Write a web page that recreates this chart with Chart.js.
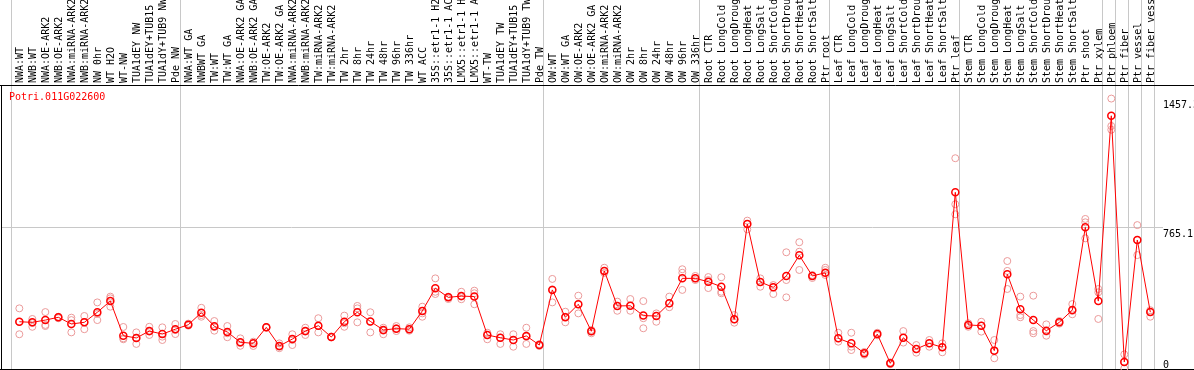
<!DOCTYPE html>
<html lang="en">
<head>
<meta charset="UTF-8">
<title>Potri.011G022600 expression</title>
<script src="https://cdn.jsdelivr.net/npm/chart.js"></script>
<style>
  html, body { margin: 0; padding: 0; background: #fff; overflow: hidden; }
  canvas { display: block; }
</style>
</head>
<body>
<canvas id="exprChart" width="1194" height="370"></canvas>
<script>
// gene shown in the panel
const geneName = 'Potri.011G022600';

// sample names, left to right
const categories = [
  'NWA:WT', 'NWB:WT', 'NWA:OE-ARK2', 'NWB:OE-ARK2', 'NWA:miRNA-ARK2', 'NWB:miRNA-ARK2',
  'NW 0hr', 'WT H2O', 'WT-NW', 'TUA1dEY NW', 'TUA1dEY+TUB15 NW', 'TUA1dY+TUB9 NW', 'Pde NW',
  'NWA:WT GA', 'NWBWT GA', 'TW:WT', 'TW:WT GA', 'NWA:OE-ARK2 GA', 'NWB:OE-ARK2 GA',
  'TW:OE-ARK2', 'TW:OE-ARK2 GA', 'NWA:miRNA-ARK2 GA', 'NWB:miRNA-ARK2 GA', 'TW:miRNA-ARK2',
  'TW:miRNA-ARK2 GA', 'TW 2hr', 'TW 8hr', 'TW 24hr', 'TW 48hr', 'TW 96hr', 'TW 336hr',
  'WT ACC', '35S::etr1-1 H2O', '35S::etr1-1 ACC', 'LMX5::etr1-1 H2O', 'LMX5::etr1-1 ACC',
  'WT-TW', 'TUA1dEY TW', 'TUA1dEY+TUB15 TW', 'TUA1dY+TUB9 TW', 'Pde TW',
  'OW:WT', 'OW:WT GA', 'OW:OE-ARK2', 'OW:OE-ARK2 GA', 'OW:miRNA-ARK2', 'OW:miRNA-ARK2 GA',
  'OW 2hr', 'OW 8hr', 'OW 24hr', 'OW 48hr', 'OW 96hr', 'OW 336hr',
  'Root CTR', 'Root LongCold', 'Root LongDrought', 'Root LongHeat', 'Root LongSalt',
  'Root ShortCold', 'Root ShortDrought', 'Root ShortHeat', 'Root ShortSalt', 'Ptr root',
  'Leaf CTR', 'Leaf LongCold', 'Leaf LongDrought', 'Leaf LongHeat', 'Leaf LongSalt',
  'Leaf ShortCold', 'Leaf ShortDrought', 'Leaf ShortHeat', 'Leaf ShortSalt', 'Ptr leaf',
  'Stem CTR', 'Stem LongCold', 'Stem LongDrought', 'Stem LongHeat', 'Stem LongSalt',
  'Stem ShortCold', 'Stem ShortDrought', 'Stem ShortHeat', 'Stem ShortSalt', 'Ptr shoot', 'Ptr xylem',
  'Ptr phloem', 'Ptr fiber', 'Ptr vessel', 'Ptr fiber vessel'
];

// how many samples sit in each experiment block
const groupSizes = [13, 28, 12, 10, 10, 11, 1, 1, 1, 1];

// mean expression per sample
const meanValues = [
  259, 256, 268, 283, 247, 256, 310, 370, 184, 172, 209, 193, 219,
  243, 308, 235, 204, 149, 143, 229, 129, 166, 209, 238, 177, 259, 310, 261, 215, 222, 219,
  317, 439, 390, 397, 394, 188, 173, 161, 183, 134,
  430, 283, 353, 208, 532, 344, 345, 292, 290, 358, 492, 492,
  474, 447, 272, 784, 472, 444, 505, 616, 505, 522,
  170, 143, 90, 193, 36, 173, 113, 143, 122, 954,
  242, 238, 104, 514, 326, 268, 211, 256, 322, 766, 370,
  1365, 43, 698, 311
];

// the three replicates
const rep1 = [
  331, 274, 311, 286, 281, 290, 363, 394, 231, 202, 232, 229, 247,
  249, 334, 263, 236, 170, 152, 229, 143, 192, 227, 278, 177, 292, 344, 310, 227, 236, 229,
  340, 492, 394, 420, 426, 200, 192, 192, 227, 139,
  489, 313, 399, 215, 549, 367, 381, 370, 304, 394, 541, 505,
  499, 498, 295, 802, 492, 456, 632, 686, 510, 549,
  200, 200, 97, 200, 41, 209, 134, 161, 143, 1137,
  251, 259, 161, 585, 394, 399, 245, 263, 354, 811, 435,
  1457.3, 84, 778, 321
];
const rep2 = [
  258, 252, 242, 283, 268, 258, 268, 385, 170, 172, 206, 179, 215,
  243, 295, 231, 197, 145, 143, 231, 125, 161, 206, 236, 179, 251, 331, 259, 211, 224, 219,
  304, 420, 390, 394, 412, 188, 173, 161, 179, 134,
  433, 286, 353, 208, 532, 344, 345, 278, 290, 358, 522, 492,
  483, 420, 272, 784, 472, 444, 483, 635, 505, 537,
  170, 125, 90, 193, 36, 173, 113, 143, 122, 890,
  242, 238, 104, 532, 295, 209, 206, 256, 317, 793, 417,
  1310, 43, 698, 311
];
const rep3 = [
  192, 232, 236, 278, 202, 219, 301, 340, 165, 140, 188, 161, 193,
  238, 286, 211, 176, 130, 129, 227, 117, 134, 188, 202, 175, 232, 256, 202, 192, 209, 211,
  286, 408, 381, 380, 353, 165, 140, 125, 140, 129,
  363, 256, 304, 197, 521, 318, 318, 224, 259, 337, 430, 483,
  440, 412, 254, 755, 447, 408, 390, 537, 494, 510,
  152, 107, 82, 186, 31, 147, 93, 125, 95, 836,
  232, 206, 63, 435, 283, 197, 184, 249, 299, 707, 274,
  1290, 9, 617, 286
];

// value labels on the right edge
const yTicks = [0, 765.1, 1457.3];
const yMax = 1530.2;

const monoFont = { family: 'DejaVu Sans Mono', size: 10 };
const red = '#ff0000';
const pink = '#eb9a9a';
const gridGray = '#c8c8c8';
const clear = 'rgba(0,0,0,0)';

// separators sit a bit left of the first sample of every block
const boundaries = [-0.64];
let blockEnd = 0;
groupSizes.forEach(n => {
  blockEnd += n;
  boundaries.push(blockEnd - 0.64);
});
const xTickValues = categories.map((_, i) => i).concat(boundaries).sort((a, b) => a - b);

const toPoints = arr => arr.map((v, i) => ({ x: i, y: v }));

const repStyle = {
  showLine: false,
  pointRadius: 3.5,
  pointBorderWidth: 1,
  pointBorderColor: pink,
  pointBackgroundColor: clear,
  borderColor: pink
};

// black frame and gene name
const framePlugin = {
  id: 'frame',
  beforeDatasetsDraw(chart) {
    const { ctx, chartArea, width } = chart;
    ctx.save();
    ctx.strokeStyle = '#000';
    ctx.lineWidth = 1;
    ctx.beginPath();
    ctx.moveTo(0, chartArea.top + 0.5);
    ctx.lineTo(width, chartArea.top + 0.5);
    ctx.moveTo(chartArea.left + 0.5, chartArea.top);
    ctx.lineTo(chartArea.left + 0.5, chartArea.bottom);
    ctx.moveTo(0, chartArea.bottom - 0.5);
    ctx.lineTo(width, chartArea.bottom - 0.5);
    ctx.stroke();
    ctx.fillStyle = red;
    ctx.font = '10px "DejaVu Sans Mono"';
    ctx.textBaseline = 'top';
    ctx.fillText(geneName, chartArea.left + 8, chartArea.top + 7);
    ctx.restore();
  }
};

const ctx = document.getElementById('exprChart').getContext('2d');
const exprChart = new Chart(ctx, {
  type: 'scatter',
  data: {
    datasets: [
      {
        label: 'mean',
        data: toPoints(meanValues),
        showLine: true,
        borderColor: red,
        borderWidth: 1,
        pointRadius: 3.5,
        pointBorderWidth: 1.5,
        pointBorderColor: red,
        pointBackgroundColor: clear
      },
      Object.assign({ label: 'rep1', data: toPoints(rep1) }, repStyle),
      Object.assign({ label: 'rep2', data: toPoints(rep2) }, repStyle),
      Object.assign({ label: 'rep3', data: toPoints(rep3) }, repStyle)
    ]
  },
  options: {
    responsive: false,
    animation: false,
    layout: { autoPadding: false, padding: { left: 1 } },
    plugins: {
      legend: { display: false },
      tooltip: { enabled: false }
    },
    scales: {
      x: {
        type: 'linear',
        position: 'top',
        min: -1.41,
        max: 87.977,
        afterBuildTicks: s => { s.ticks = xTickValues.map(v => ({ value: v })); },
        afterFit: s => {
          s.height = 85;
          s.paddingLeft = 0;
          s.paddingRight = 0;
        },
        border: { display: false },
        grid: {
          // only block separators are visible, and they run up through the labels
          color: c => (c.tick && !Number.isInteger(c.tick.value)) ? gridGray : clear,
          drawTicks: true,
          tickLength: 85
        },
        ticks: {
          autoSkip: false,
          minRotation: 90,
          maxRotation: 90,
          padding: -83,
          labelOffset: 13,
          color: '#000',
          font: monoFont,
          callback: v => Number.isInteger(v) ? categories[v] : ''
        }
      },
      y: {
        type: 'linear',
        position: 'right',
        min: 0,
        max: yMax,
        afterBuildTicks: s => { s.ticks = yTicks.map(v => ({ value: v })); },
        afterFit: s => {
          s.width = 31;
          s.paddingTop = 0;
          s.paddingBottom = 0;
        },
        border: { display: false },
        grid: {
          color: c => (c.tick && c.tick.value === yTicks[1]) ? gridGray : clear,
          drawTicks: false
        },
        ticks: {
          align: 'start',
          padding: 0,
          labelOffset: 2,
          color: '#000',
          font: monoFont,
          // the zero label is lifted so it stays inside the frame
          callback: v => v === 0 ? ['0', '', ''] : String(v)
        }
      }
    }
  },
  plugins: [framePlugin]
});
</script>
</body>
</html>
